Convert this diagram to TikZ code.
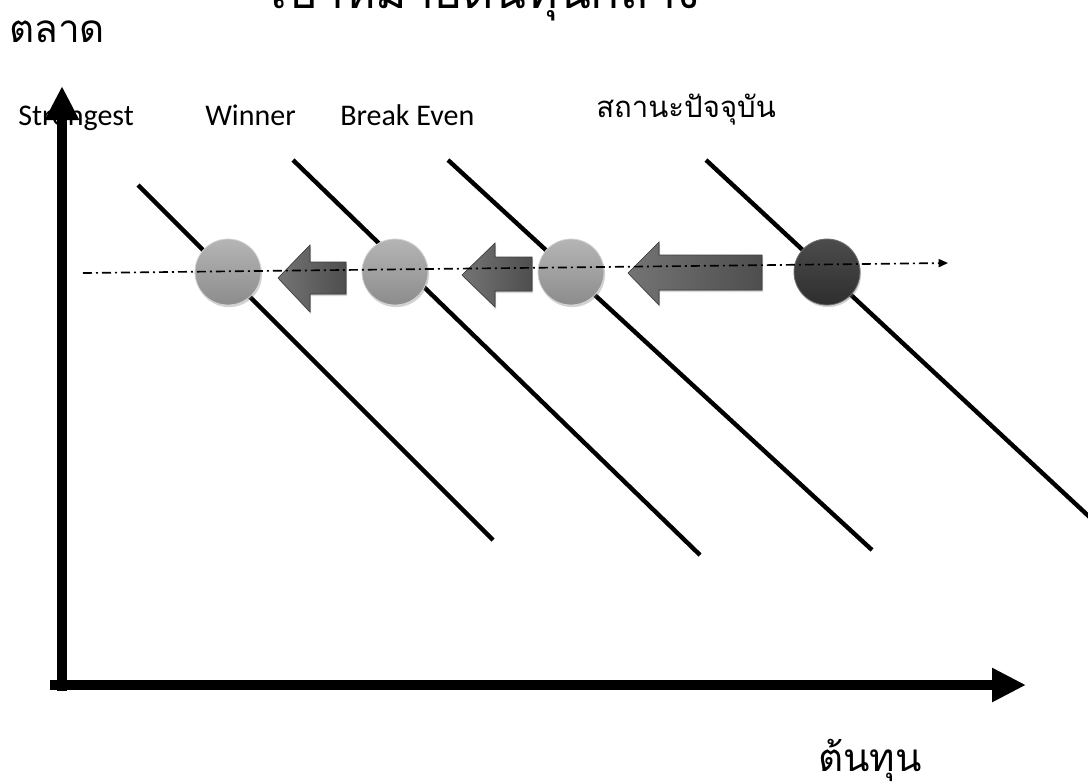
\documentclass[tikz,border=0pt]{standalone}
\usepackage{fontspec}
\setmainfont{Carlito}
\newfontfamily\thaifont[Script=Thai]{Loma}
\usetikzlibrary{arrows.meta,shadows}
\definecolor{ballhi}{HTML}{B5B5B5}
\definecolor{balllo}{HTML}{8C8C8C}
\definecolor{darkhi}{HTML}{4C4C4C}
\definecolor{darklo}{HTML}{2E2E2E}
\definecolor{arrowhi}{HTML}{747474}
\definecolor{arrowlo}{HTML}{4E4E4E}
\begin{document}
\begin{tikzpicture}[x=0.75pt,y=-0.75pt,
  axisline/.style={line width=7.5pt,-{Triangle[length=25.5pt,width=24pt]}},
  isoline/.style={line width=3.3pt,black},
  ball/.style={circle,minimum size=49.5pt,inner sep=0pt,top color=ballhi,bottom color=balllo,
    draw=ballhi!60!white,line width=0.6pt,
    drop shadow={shadow xshift=0.8pt,shadow yshift=-1.6pt,opacity=0.35}},
  darkball/.style={ball,top color=darkhi,bottom color=darklo,draw=darkhi!80!white},
  blockarrow/.style={left color=arrowhi,right color=arrowlo,draw=arrowlo!80!black,line width=0.4pt,
    drop shadow={shadow xshift=0.8pt,shadow yshift=-1.6pt,opacity=0.3}},
  trend/.style={line width=1.25pt,dash pattern=on 6.75pt off 3pt on 1.5pt off 3pt,
    -{Triangle[length=7pt,width=6pt]}},
  label/.style={inner sep=0pt,anchor=base west,font=\fontsize{22.5pt}{26pt}\selectfont},
  thailabel/.style={inner sep=0pt,anchor=base west},
]
\clip (0,0) rectangle (1088,783);
\fill[white] (0,0) rectangle (1088,783);

% title and axis captions
\node[thailabel,font=\fontsize{36pt}{42pt}\thaifont] (title) at (270,8) {เป้าหมายต้นทุนกลาง};
\node[thailabel,font=\fontsize{29pt}{34pt}\thaifont] (market) at (9,42) {ตลาด};
\node[thailabel,font=\fontsize{29pt}{34pt}\thaifont] (cost) at (818,771) {ต้นทุน};

% position labels
\node[label] (strong) at (18,125) {Strongest};
\node[label] (winner) at (205,125) {Winner};
\node[label] (breakeven) at (340,125) {Break Even};
\node[thailabel,font=\fontsize{22pt}{26pt}\thaifont] (now) at (596,117) {สถานะปัจจุบัน};

% axes
\coordinate (ybot) at (62,691);
\coordinate (ytop) at (62,86);
\coordinate (xleft) at (50,685);
\coordinate (xright) at (1026,685);
\draw[axisline] (ybot) -- (ytop);
\draw[axisline] (xleft) -- (xright);

% iso lines
\coordinate (l1a) at (138,185); \coordinate (l1b) at (493,540);
\coordinate (l2a) at (293,160); \coordinate (l2b) at (700,555);
\coordinate (l3a) at (448,160); \coordinate (l3b) at (872,550);
\coordinate (l4a) at (706,160); \coordinate (l4b) at (1110,536);
\draw[isoline] (l1a) -- (l1b);
\draw[isoline] (l2a) -- (l2b);
\draw[isoline] (l3a) -- (l3b);
\draw[isoline] (l4a) -- (l4b);

% block arrows pointing left
\filldraw[blockarrow] (278,278) -- (310,245) -- (310,262) -- (346,262) -- (346,294) -- (310,294) -- (310,312) -- cycle;
\filldraw[blockarrow] (462,275) -- (495,243) -- (495,257) -- (532,257) -- (532,291) -- (495,291) -- (495,307) -- cycle;
\filldraw[blockarrow] (628,273) -- (659,242) -- (659,255) -- (762,255) -- (762,290) -- (659,290) -- (659,305) -- cycle;

% positions
\node[ball] (p1) at (228,272) {};
\node[ball] (p2) at (395,272) {};
\node[ball] (p3) at (571,272) {};
\node[darkball] (p4) at (827,272) {};

% trend line
\coordinate (ts) at (83,273);
\coordinate (te) at (948,263);
\draw[trend] (ts) -- (te);
\end{tikzpicture}
\end{document}
